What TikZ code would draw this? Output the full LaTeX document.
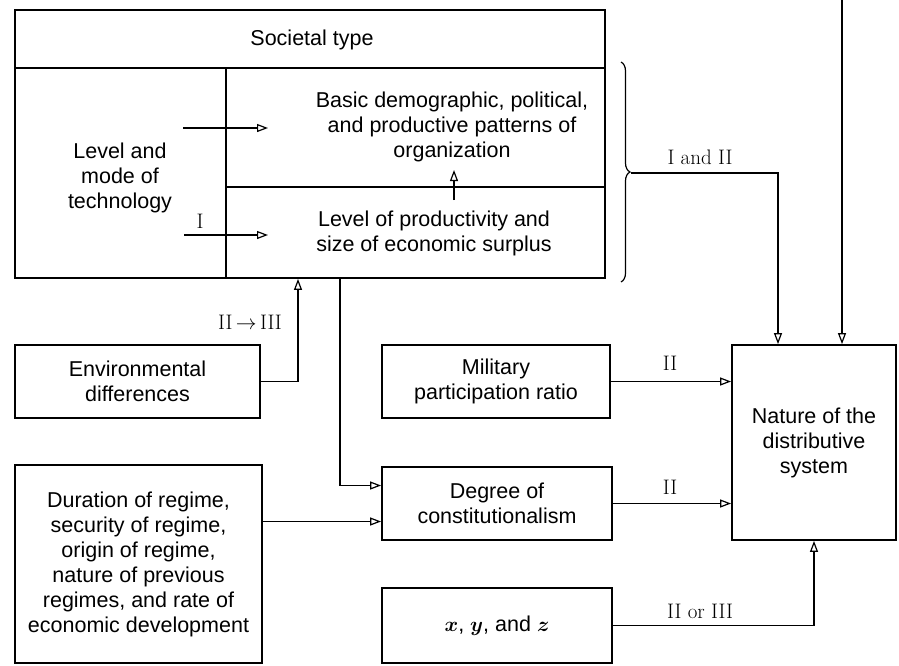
\documentclass[tikz,border=0pt]{standalone}
\usepackage{fontspec}
\setsansfont{Liberation Sans}
\usepackage{amsmath}
\usetikzlibrary{arrows.meta,decorations.pathreplacing}
\tikzset{
  box/.style={draw,line width=1.8pt,inner sep=0pt},
  txt/.style={font=\sffamily\fontsize{21.5}{25}\selectfont,align=center},
  num/.style={font=\rmfamily\fontsize{21}{25}\selectfont},
  arr/.style={line width=1.2pt,-{Triangle[open,length=11pt,width=8pt]}},
}
\begin{document}
\begin{tikzpicture}[x=1pt,y=-1pt]
            \useasboundingbox (0,0) rectangle (899,665);
            \node[box,minimum width=590,minimum height=268] (frame) at (310,144) {};
            \draw[line width=1.8pt] (15,68) -- (605,68);
            \draw[line width=1.8pt] (226,68) -- (226,278);
            \draw[line width=1.8pt] (226,187) -- (605,187);
            \node[txt] (soctype) at (312,40) {Societal type};
            \node[txt] (tech) at (120,178) {Level and\\mode of\\technology};
            \node[txt] (basic) at (452,127) {Basic demographic, political,\\and productive patterns of\\organization};
            \node[txt] (prod) at (434,233) {Level of productivity and\\size of economic surplus};
            \coordinate (t1s) at (183,128);
            \coordinate (t1e) at (268,128);
            \coordinate (t2s) at (184,235);
            \coordinate (t2e) at (268,235);
            \coordinate (pbs) at (454,200);
            \coordinate (pbe) at (454,170);
            \draw[arr] (t1s) -- (t1e);
            \draw[arr] (t2s) -- (t2e);
            \draw[arr] (pbs) -- (pbe);
            \node[num] (lblI) at (200,221) {I};

            \node[box,txt,minimum width=245,minimum height=73] (env) at (137.5,381.5) {Environmental\\differences};
            \node[box,txt,minimum width=247,minimum height=198] (dur) at (138.5,564) {Duration of regime,\\security of regime,\\origin of regime,\\nature of previous\\regimes, and rate of\\economic development};
            \node[box,txt,minimum width=228,minimum height=73] (mil) at (496,381.5) {Military\\participation ratio};
            \node[box,txt,minimum width=230,minimum height=73] (degree) at (497,503.5) {Degree of\\constitutionalism};
            \node[box,txt,minimum width=230,minimum height=75] (xyz) at (497,625.5) {$\boldsymbol{x}$, $\boldsymbol{y}$, and $\boldsymbol{z}$};
            \node[box,txt,minimum width=164,minimum height=195] (nature) at (814,442.5) {Nature of the\\distributive\\system};

            \draw[decorate,decoration={brace,amplitude=9pt},line width=1.2pt] (621,62) -- (621,282);
            \coordinate (brtip) at (631,173);
            \coordinate (topin) at (842,0);
            \coordinate (degin) at ([yshift=-18pt]degree.west);
            \draw[arr] (brtip) -| ([xshift=-36pt]nature.north);
            \draw[arr] (topin) -- (topin |- nature.north);
            \draw[arr] (env.east) -| ([xshift=-12pt]frame.south);
            \draw[arr] ([xshift=30pt]frame.south) |- ([yshift=18pt]degree.west);
            \draw[arr] (dur.east |- degin) -- (degin);
            \draw[arr] (mil.east) -- (mil.east -| nature.west);
            \draw[arr] (degree.east) -- (degree.east -| nature.west);
            \draw[arr] (xyz.east) -| (nature.south);
            \node[num] (lblIandII) at (700,157) {I and II};
            \node[num] (lblEnv) at (250,322) {II$\,\rightarrow\,$III};
            \node[num] (lblMil) at (670,363) {II};
            \node[num] (lblDeg) at (670,487) {II};
            \node[num] (lblXyz) at (700,611) {II or III};
        \end{tikzpicture}
\end{document}
